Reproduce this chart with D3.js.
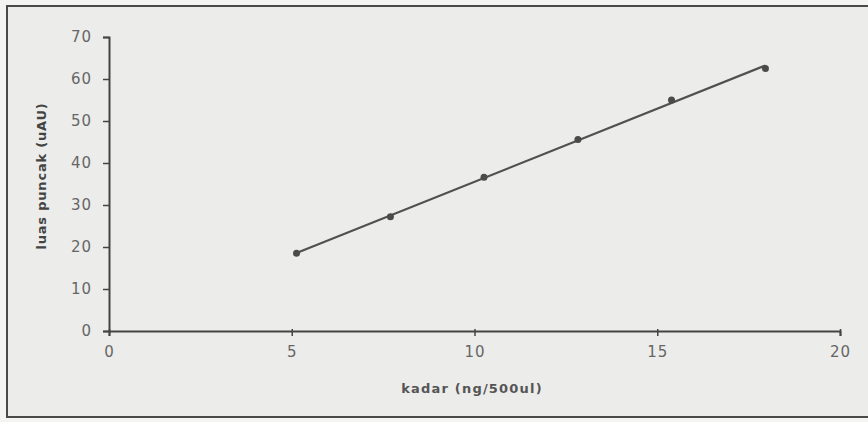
<!DOCTYPE html>
<html>
<head>
<meta charset="utf-8">
<script src="https://cdn.jsdelivr.net/npm/d3@7"></script>
<style>
  body { margin: 0; background: #f4f4f2; }
  svg { display: block; font-family: "DejaVu Sans", Verdana, sans-serif; }
</style>
</head>
<body>
<svg width="868" height="422"></svg>
<script>
// kadar (ng/500ul) vs luas puncak (uAU)
var kadar = [5.13, 7.7, 10.26, 12.83, 15.39, 17.96];
var luas = [18.5, 27.2, 36.6, 45.6, 55.0, 62.5];
var xTicks = [0, 5, 10, 15, 20];
var yTicks = [0, 10, 20, 30, 40, 50, 60, 70];

var svg = d3.select("svg");
var margins = { top: 37, left: 109, right: 28, bottom: 91 };
var chartWidth = 840 - margins.left;
var chartHeight = 331 - margins.top;

// frame
svg.append("rect")
  .attr("x", 7).attr("y", 6)
  .attr("width", 870).attr("height", 411)
  .style("fill", "#ececea")
  .style("stroke", "#4a4a4a")
  .style("stroke-width", 2);

var g = svg.append("g")
  .attr("transform", `translate(${margins.left},${margins.top})`);

var xScale = d3.scaleLinear([0, 20], [0, chartWidth]);
var yScale = d3.scaleLinear([0, 70], [chartHeight, 0]);

var xAxis = g.append("g")
  .attr("transform", `translate(0,${chartHeight})`)
  .call(d3.axisBottom(xScale).tickValues(xTicks).tickSize(5).tickPadding(10));
var yAxis = g.append("g")
  .call(d3.axisLeft(yScale).tickValues(yTicks).tickSize(6).tickPadding(11));

[xAxis, yAxis].forEach(function (a) {
  a.select(".domain").style("stroke", "#444").style("stroke-width", 2);
  a.selectAll(".tick line").style("stroke", "#444").style("stroke-width", 1.5);
  a.selectAll(".tick text")
    .style("font-family", "DejaVu Sans, sans-serif")
    .style("font-size", "15px")
    .style("letter-spacing", "1px")
    .style("fill", "#666");
});
xAxis.selectAll(".tick line").attr("y1", -2);

// least squares trend line
var mx = d3.mean(kadar), my = d3.mean(luas);
var sxy = d3.sum(kadar, function (d, i) { return (d - mx) * (luas[i] - my); });
var sxx = d3.sum(kadar, function (d) { return (d - mx) * (d - mx); });
var slope = sxy / sxx;
var icpt = my - slope * mx;
var ext = d3.extent(kadar);

g.append("line")
  .attr("x1", xScale(ext[0])).attr("y1", yScale(icpt + slope * ext[0]))
  .attr("x2", xScale(ext[1])).attr("y2", yScale(icpt + slope * ext[1]))
  .style("stroke", "#505050")
  .style("stroke-width", 2.2);

g.selectAll("circle.pt")
  .data(kadar)
  .enter().append("circle")
  .attr("class", "pt")
  .attr("cx", function (d) { return xScale(d); })
  .attr("cy", function (d, i) { return yScale(luas[i]); })
  .attr("r", 3.5)
  .style("fill", "#4a4a4a");

// axis titles
svg.append("text")
  .attr("x", 472).attr("y", 393)
  .attr("text-anchor", "middle")
  .style("font-size", "13px").style("font-weight", "bold")
  .style("fill", "#555")
  .style("letter-spacing", "1.2px")
  .text("kadar (ng/500ul)");

svg.append("text")
  .attr("transform", "translate(46,176) rotate(-90)")
  .attr("text-anchor", "middle")
  .style("font-size", "13px").style("font-weight", "bold")
  .style("fill", "#444")
  .style("letter-spacing", "0.8px")
  .text("luas puncak (uAU)");
</script>
</body>
</html>
